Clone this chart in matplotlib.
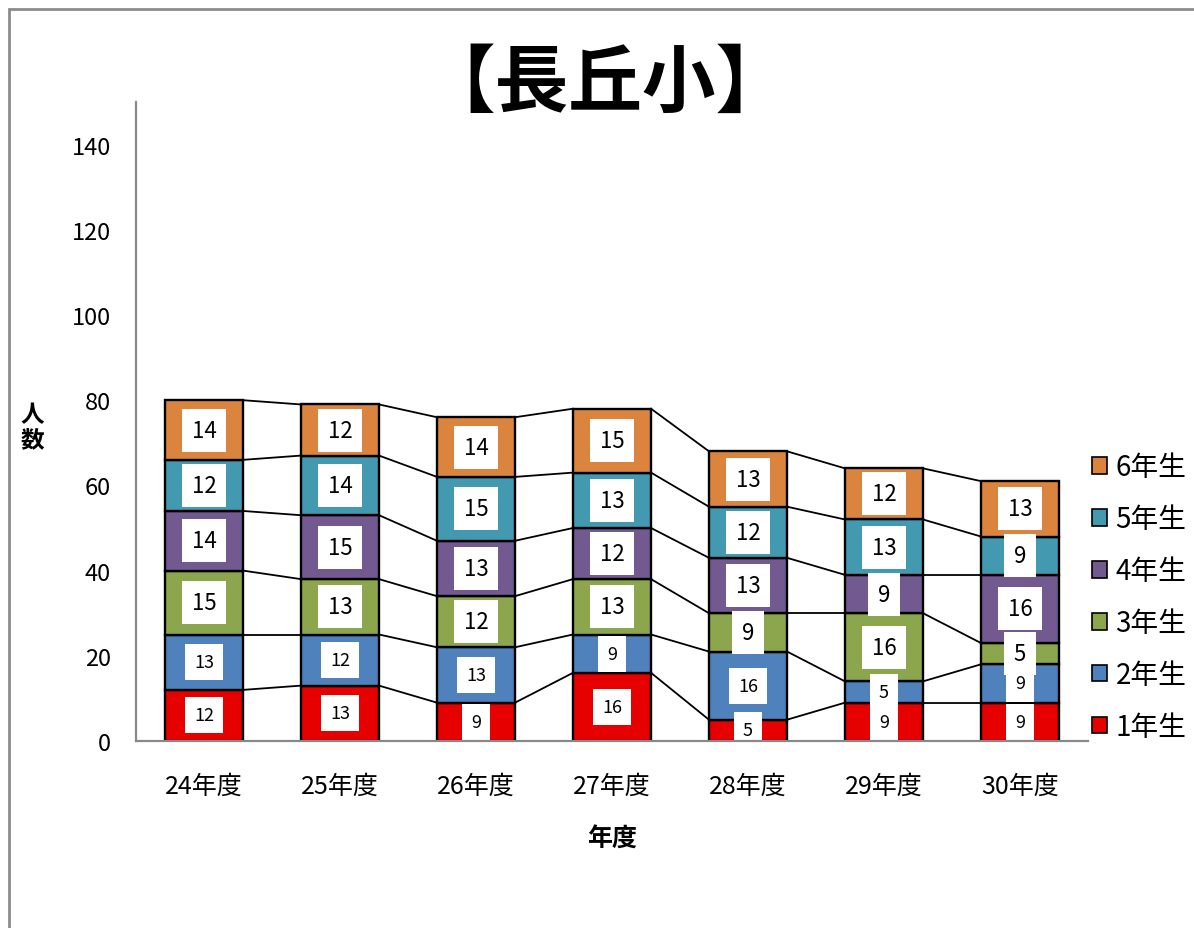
import matplotlib.pyplot as plt
import matplotlib.patches as mpatches
import numpy as np

# data
years = ['24年度', '25年度', '26年度', '27年度', '28年度', '29年度', '30年度']
grades = ['1年生', '2年生', '3年生', '4年生', '5年生', '6年生']
grade1 = [12, 13, 9, 16, 5, 9, 9]
grade2 = [13, 12, 13, 9, 16, 5, 9]
grade3 = [15, 13, 12, 13, 9, 16, 5]
grade4 = [14, 15, 13, 12, 13, 9, 16]
grade5 = [12, 14, 15, 13, 12, 13, 9]
grade6 = [14, 12, 14, 15, 13, 12, 13]
yticks = [0, 20, 40, 60, 80, 100, 120, 140]

colors = ['#E60000', '#4F81BD', '#8CA64E', '#725990', '#4299B0', '#DB843D']

plt.rcParams['font.family'] = ['Noto Sans CJK JP', 'DejaVu Sans']

W, H = 1194, 929
fig = plt.figure(figsize=(W / 100, H / 100), dpi=100)
ax = fig.add_axes([136 / W, 1 - 742 / H, (1088 - 136) / W, (742 - 103) / H])

x = np.arange(len(years))
width = 0.574
bottom = np.zeros(len(years))
series = [grade1, grade2, grade3, grade4, grade5, grade6]

for i, vals in enumerate(series):
    vals = np.array(vals)
    ax.bar(x, vals, width, bottom=bottom, color=colors[i], edgecolor='black',
           linewidth=1.7, label=grades[i], zorder=2)
    top = bottom + vals
    # series lines between stacked bars
    for j in range(len(years) - 1):
        ax.plot([x[j] + width / 2, x[j + 1] - width / 2], [top[j], top[j + 1]],
                color='black', lw=1.3, zorder=1)
    # data labels in white boxes
    fs = 13 if i < 2 else 16
    pad = 0.5 if i < 2 else 0.45
    for j in range(len(years)):
        ax.text(x[j], bottom[j] + vals[j] / 2, str(vals[j]), ha='center', va='center',
                fontsize=fs, zorder=4, clip_on=True,
                bbox=dict(boxstyle=f'square,pad={pad}', fc='white', ec='none'))
    bottom = top

ax.set_xlim(-0.5, len(years) - 0.5)
ax.set_ylim(0, 150)
ax.set_xticks(x)
ax.set_xticklabels(years, fontsize=18)
ax.set_yticks(yticks)
ax.set_yticklabels([str(v) for v in yticks], fontsize=17)
ax.tick_params(axis='both', length=0)
ax.tick_params(axis='x', pad=23)
ax.tick_params(axis='y', pad=18)

for side in ['top', 'right']:
    ax.spines[side].set_visible(False)
for side in ['left', 'bottom']:
    ax.spines[side].set_color('#898989')
    ax.spines[side].set_linewidth(1.6)
    ax.spines[side].set_zorder(5)

ax.set_xlabel('年度', fontsize=18, fontweight='bold', labelpad=20)
fig.text(32 / W, 1 - 428 / H, '人\n数', fontsize=17, fontweight='bold',
         ha='center', va='center', linespacing=1.05)

fig.text(605 / W, 1 - 85 / H, '【長丘小】', fontsize=53, fontweight='bold',
         ha='center', va='center')

# legend, top entry is 6年生
handles, labels = ax.get_legend_handles_labels()
leg = ax.legend(handles[::-1], labels[::-1], loc='center left',
                bbox_to_anchor=(1092 / W, 1 - 598 / H), bbox_transform=fig.transFigure,
                frameon=False, fontsize=20, handlelength=0.55, handleheight=0.55,
                handletextpad=0.3, labelspacing=0.79, borderpad=0, borderaxespad=0)
for h in leg.legend_handles:
    h.set_edgecolor('black')
    h.set_linewidth(1.2)

# outer chart frame
fig.add_artist(mpatches.Rectangle((9 / W, -0.1), 1.2, 1 - 10 / H + 0.1,
                                  transform=fig.transFigure, fill=False,
                                  edgecolor='#8C8C8C', linewidth=2))

fig.savefig('out.png', dpi=100, facecolor='white')
